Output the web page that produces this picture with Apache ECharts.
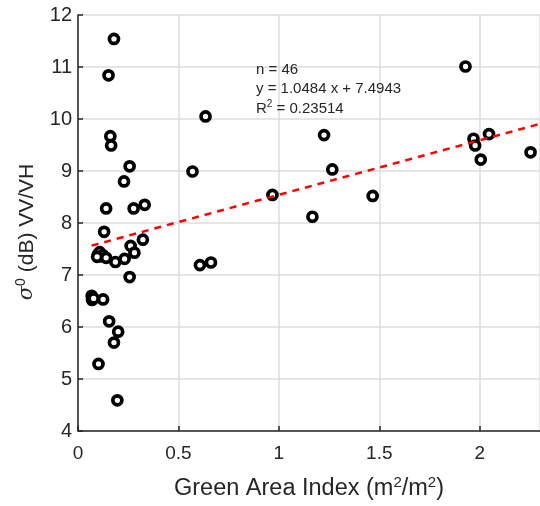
<!DOCTYPE html>
<html>
<head>
<meta charset="utf-8">
<script src="https://cdn.jsdelivr.net/npm/echarts@6/dist/echarts.min.js"></script>
<style>html,body{margin:0;padding:0;background:#fff;}#c{width:540px;height:506px;}</style>
</head>
<body>
<div id="c"></div>
<script>
var gaiX = [0.179,0.152,0.635,0.161,0.165,0.257,0.570,0.229,0.140,0.277,0.332,0.130,0.323,0.262,0.281,
  0.100,0.108,0.115,0.125,0.140,0.186,0.095,0.232,0.257,0.607,0.662,
  0.068,0.070,0.078,0.125,0.155,0.200,0.179,0.102,0.196,
  1.929,1.225,1.266,0.968,1.167,1.467,1.969,1.977,2.046,2.005,2.253];
var sigmaY = [11.54,10.84,10.05,9.67,9.49,9.09,8.99,8.80,8.28,8.28,8.35,7.83,7.68,7.56,7.43,
  7.40,7.44,7.36,7.38,7.33,7.25,7.35,7.31,6.96,7.19,7.24,
  6.60,6.52,6.55,6.53,6.11,5.91,5.70,5.29,4.59,
  11.01,9.69,9.03,8.54,8.12,8.52,9.62,9.49,9.71,9.22,9.36];
var fitSlope = 1.0484, fitIntercept = 7.4943, fitXEnd = 2.3;
var xTicks = [0, 0.5, 1, 1.5, 2];
var yTicks = [4,5,6,7,8,9,10,11,12];

var pts = gaiX.map(function(x,i){return [x, sigmaY[i]];});
var x0 = Math.min.apply(null, gaiX);
var fitLine = [[x0, fitSlope*x0+fitIntercept],[fitXEnd, fitSlope*fitXEnd+fitIntercept]];
var txt = '#262626';
var ff = 'Liberation Sans, Arial, sans-serif';
var chart = echarts.init(document.getElementById('c'));
chart.setOption({
  animation:false,
  grid:{left:78,right:-5,top:15,bottom:73},
  xAxis:{type:'value',min:0,max:2.3,interval:0.5,
    axisLine:{show:true,onZero:false,lineStyle:{color:'#262626',width:1.5}},
    axisTick:{show:true,inside:true,length:5,lineStyle:{color:'#262626',width:1.5}},
    axisLabel:{color:txt,fontSize:19,fontFamily:ff,margin:13,showMaxLabel:false,
      formatter:function(v){return xTicks.indexOf(v)>=0?String(v):'';}},
    splitLine:{show:true,lineStyle:{color:'#dcdcdc',width:1.5}},
    name:'{a|Green Area Index (m}{s|2}{a|/m}{s|2}{a|)}',nameLocation:'middle',nameGap:44,
    nameTextStyle:{rich:{a:{fontSize:23.5,color:txt,fontFamily:ff},s:{fontSize:15,color:txt,fontFamily:ff,padding:[0,0,13,0]}}}
  },
  yAxis:{type:'value',min:4,max:12,interval:1,
    axisLine:{show:true,lineStyle:{color:'#262626',width:1.5}},
    axisTick:{show:true,inside:true,length:5,lineStyle:{color:'#262626',width:1.5}},
    axisLabel:{color:txt,fontSize:20,fontFamily:ff,margin:6},
    splitLine:{show:true,lineStyle:{color:'#dcdcdc',width:1.5}},
    name:'{g|σ}{s|0}{a| (dB) VV/VH}',nameLocation:'middle',nameGap:38,nameRotate:90,
    nameTextStyle:{padding:[0,18,0,0],rich:{a:{fontSize:21,color:txt,fontFamily:ff},g:{fontSize:21,color:txt,fontStyle:'italic',fontFamily:'DejaVu Serif'},s:{fontSize:14,color:txt,fontFamily:ff,padding:[0,0,12,0]}}}
  },
  graphic:[{type:'text',left:256,top:60,z:100,style:{text:'n = 46\ny = 1.0484 x + 7.4943',fill:txt,font:'15px Liberation Sans, Arial',lineHeight:19}},
    {type:'text',left:256,top:99,z:100,style:{rich:{a:{fontSize:15,fontFamily:ff,fill:txt},s:{fontSize:10,fontFamily:ff,fill:txt,padding:[0,0,9,0]}},text:'{a|R}{s|2}{a| = 0.23514}'}}],
  series:[
    {type:'scatter',data:pts,symbol:'circle',symbolSize:9,z:3,
      itemStyle:{color:'#fff',borderColor:'#000',borderWidth:3.7,opacity:1}},
    {type:'line',data:fitLine,symbol:'none',z:4,lineStyle:{color:'#ff0000',width:2.5,type:[7,6]}}
  ]
});
</script>
</body>
</html>
